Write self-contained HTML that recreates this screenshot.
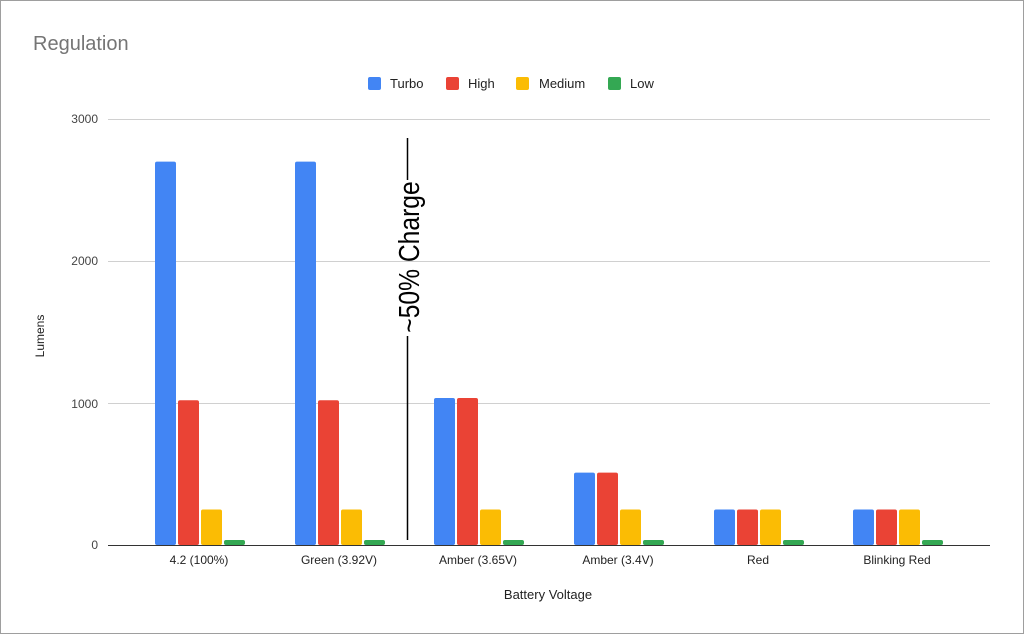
<!DOCTYPE html>
<html><head><meta charset="utf-8"><style>body{margin:0;background:#fff}svg{display:block;font-family:"Liberation Sans",Arial,sans-serif}</style></head><body>
<svg width="1024" height="634" viewBox="0 0 1024 634">
<rect x="0.5" y="0.5" width="1023" height="633" fill="#fff" stroke="#9e9e9e"/>
<text x="33" y="50" font-size="20" fill="#757575">Regulation</text>
<g font-size="13" fill="#222">
<rect x="368" y="77" width="13" height="13" rx="2" fill="#4285f4"/><text x="390" y="88">Turbo</text>
<rect x="446" y="77" width="13" height="13" rx="2" fill="#ea4335"/><text x="468" y="88">High</text>
<rect x="516" y="77" width="13" height="13" rx="2" fill="#fbbc04"/><text x="539" y="88">Medium</text>
<rect x="608" y="77" width="13" height="13" rx="2" fill="#34a853"/><text x="630" y="88">Low</text>
</g>
<g stroke="#d0d0d0" stroke-width="1">
<line x1="108" y1="119.5" x2="990" y2="119.5"/><line x1="108" y1="261.5" x2="990" y2="261.5"/><line x1="108" y1="403.5" x2="990" y2="403.5"/>
</g>
<g font-size="12" fill="#444" text-anchor="end">
<text x="98" y="123">3000</text><text x="98" y="265">2000</text><text x="98" y="408">1000</text><text x="98" y="549">0</text>
</g>
<text transform="translate(44,336) rotate(-90)" font-size="12" fill="#222" text-anchor="middle">Lumens</text>
<line x1="108" y1="545.5" x2="990" y2="545.5" stroke="#333" stroke-width="1"/>
<g font-size="12" fill="#222" text-anchor="middle">
<text x="199" y="564">4.2 (100%)</text><text x="339" y="564">Green (3.92V)</text><text x="478" y="564">Amber (3.65V)</text><text x="618" y="564">Amber (3.4V)</text><text x="758" y="564">Red</text><text x="897" y="564">Blinking Red</text>
</g>
<text x="548" y="599" font-size="13" fill="#222" text-anchor="middle">Battery Voltage</text>
<line x1="407.5" y1="138" x2="407.5" y2="180" stroke="#000" stroke-width="1.5"/>
<line x1="407.5" y1="336" x2="407.5" y2="540" stroke="#000" stroke-width="1.5"/>
<text transform="translate(419,257) rotate(-90) scale(0.85,1)" font-size="29" fill="#000" text-anchor="middle">~50% Charge</text>
<g>
<rect x="155" y="161.6" width="21" height="383.4" rx="2" fill="#4285f4"/><rect x="178" y="400.2" width="21" height="144.8" rx="2" fill="#ea4335"/><rect x="201" y="509.5" width="21" height="35.5" rx="2" fill="#fbbc04"/><rect x="224" y="540" width="21" height="5" rx="2" fill="#34a853"/>
<rect x="295" y="161.6" width="21" height="383.4" rx="2" fill="#4285f4"/><rect x="318" y="400.2" width="21" height="144.8" rx="2" fill="#ea4335"/><rect x="341" y="509.5" width="21" height="35.5" rx="2" fill="#fbbc04"/><rect x="364" y="540" width="21" height="5" rx="2" fill="#34a853"/>
<rect x="434" y="398" width="21" height="147" rx="2" fill="#4285f4"/><rect x="457" y="398" width="21" height="147" rx="2" fill="#ea4335"/><rect x="480" y="509.5" width="21" height="35.5" rx="2" fill="#fbbc04"/><rect x="503" y="540" width="21" height="5" rx="2" fill="#34a853"/>
<rect x="574" y="472.6" width="21" height="72.4" rx="2" fill="#4285f4"/><rect x="597" y="472.6" width="21" height="72.4" rx="2" fill="#ea4335"/><rect x="620" y="509.5" width="21" height="35.5" rx="2" fill="#fbbc04"/><rect x="643" y="540" width="21" height="5" rx="2" fill="#34a853"/>
<rect x="714" y="509.5" width="21" height="35.5" rx="2" fill="#4285f4"/><rect x="737" y="509.5" width="21" height="35.5" rx="2" fill="#ea4335"/><rect x="760" y="509.5" width="21" height="35.5" rx="2" fill="#fbbc04"/><rect x="783" y="540" width="21" height="5" rx="2" fill="#34a853"/>
<rect x="853" y="509.5" width="21" height="35.5" rx="2" fill="#4285f4"/><rect x="876" y="509.5" width="21" height="35.5" rx="2" fill="#ea4335"/><rect x="899" y="509.5" width="21" height="35.5" rx="2" fill="#fbbc04"/><rect x="922" y="540" width="21" height="5" rx="2" fill="#34a853"/>
</g>
</svg>
</body></html>
